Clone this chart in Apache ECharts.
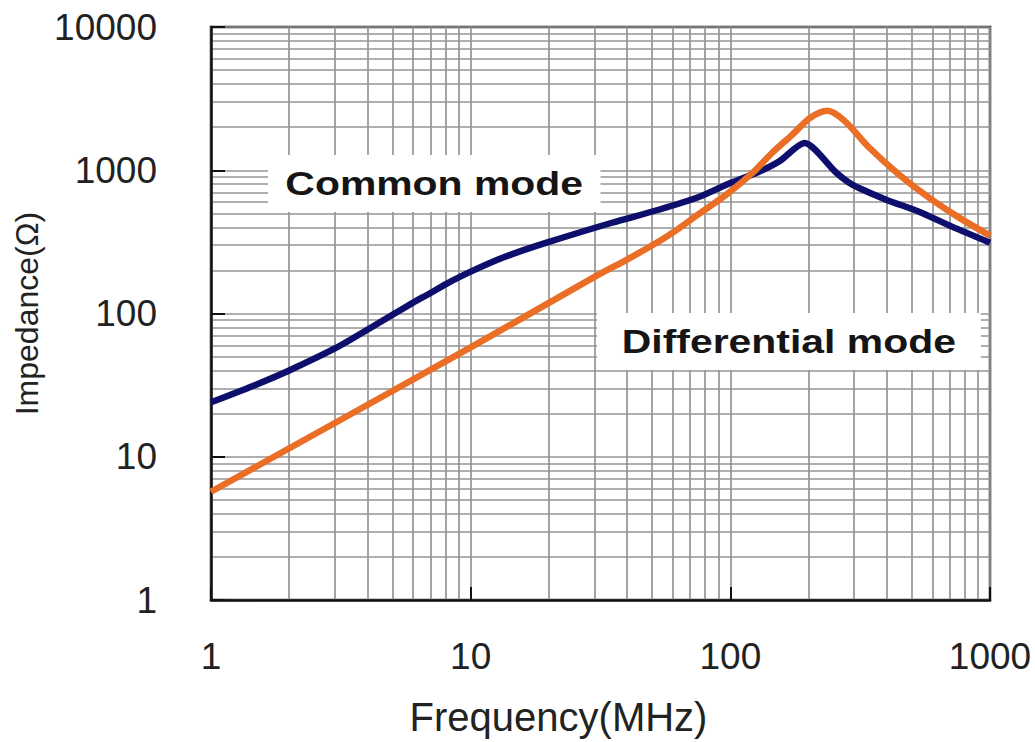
<!DOCTYPE html>
<html>
<head>
<meta charset="utf-8">
<script src="https://cdn.jsdelivr.net/npm/echarts@6/dist/echarts.min.js"></script>
<style>
  html, body { margin: 0; padding: 0; background: #fff; }
  #impedance { width: 1035px; height: 742px; }
</style>
</head>
<body>
<div id="impedance"></div>
<script>
// values
const freqCommon = [1, 1.5, 2, 3, 4, 5, 6, 7, 8, 10, 13.5, 19.6, 35, 53, 76, 96.5, 129, 154, 193, 256, 295, 398, 533, 714, 1000];
const zCommon = [24, 32, 40, 57, 77, 98, 119, 139, 160, 196, 248, 312, 430, 530, 653, 793, 977, 1150, 1550, 960, 793, 623, 514, 404, 312];

const freqDiff = [1, 10, 30, 40, 53, 63, 75, 96.5, 122, 145, 173, 203, 236, 274, 343, 447, 582, 760, 1000];
const zDiff = [5.7, 58, 180, 238, 318, 390, 490, 675, 961, 1325, 1767, 2320, 2600, 2230, 1435, 930, 643, 467, 350];

const xMajor = [1, 10, 100, 1000];
const yMajor = [1, 10, 100, 1000, 10000];

// 1,2..9,10,20..90 ... for the fine grid
function decadeLines(majors) {
  let out = [];
  for (let i = 0; i < majors.length - 1; i++) {
    for (let k = 1; k < 10; k++) out.push(majors[i] * k);
  }
  out.push(majors[majors.length - 1]);
  return out;
}

const font = '"Liberation Sans", Arial, sans-serif';
const labelFmt = function (v) { return String(Math.round(v)); };

let chart = echarts.init(document.getElementById('impedance'), null, { renderer: 'svg' });

let option = {
  animation: false,
  backgroundColor: '#fff',
  grid: {
    left: 211, right: 45, top: 27, bottom: 141,
    show: true,
    borderColor: '#1a1a1a',
    borderWidth: 2.5,
    backgroundColor: 'transparent'
  },
  xAxis: [
    {
      type: 'log', logBase: 10, min: 1, max: 1000,
      name: 'Frequency(MHz)',
      nameLocation: 'middle',
      nameGap: 97,
      nameTextStyle: { fontFamily: font, fontSize: 40, color: '#222', padding: [0, 84, 0, 0] },
      axisLine: { show: true, lineStyle: { color: '#111', width: 2.5 } },
      axisTick: { show: true, inside: true, length: 13, customValues: xMajor, lineStyle: { color: '#111', width: 2 } },
      axisLabel: { customValues: xMajor, formatter: labelFmt, margin: 38, fontFamily: font, fontSize: 37, color: '#222' },
      splitLine: { show: false }
    },
    {
      type: 'log', logBase: 10, min: 1, max: 1000,
      position: 'bottom',
      axisLine: { show: false },
      axisTick: { show: false, customValues: decadeLines(xMajor) },
      axisLabel: { show: false },
      splitLine: { show: true, lineStyle: { color: '#959595', width: 1.7 } }
    }
  ],
  yAxis: [
    {
      type: 'log', logBase: 10, min: 1, max: 10000,
      name: 'Impedance(Ω)',
      nameLocation: 'middle',
      nameGap: 158,
      nameTextStyle: { fontFamily: font, fontSize: 32, color: '#222' },
      axisLine: { show: true, lineStyle: { color: '#111', width: 2.5 } },
      axisTick: { show: true, inside: true, length: 14, customValues: yMajor, lineStyle: { color: '#111', width: 2 } },
      axisLabel: { customValues: yMajor, formatter: labelFmt, margin: 54, fontFamily: font, fontSize: 37, color: '#222' },
      splitLine: { show: false }
    },
    {
      type: 'log', logBase: 10, min: 1, max: 10000,
      position: 'left',
      axisLine: { show: false },
      axisTick: { show: false, customValues: decadeLines(yMajor) },
      axisLabel: { show: false },
      splitLine: { show: true, lineStyle: { color: '#959595', width: 1.7 } }
    }
  ],
  series: [
    {
      name: 'Common mode',
      type: 'line',
      xAxisIndex: 0, yAxisIndex: 0,
      data: freqCommon.map((f, i) => [f, zCommon[i]]),
      showSymbol: false,
      smooth: 0.25,
      lineStyle: { color: '#0e0e6c', width: 6.5 },
      z: 3
    },
    {
      name: 'Differential mode',
      type: 'line',
      xAxisIndex: 0, yAxisIndex: 0,
      data: freqDiff.map((f, i) => [f, zDiff[i]]),
      showSymbol: false,
      smooth: 0.3,
      lineStyle: { color: '#ea6e26', width: 6.5 },
      z: 4
    }
  ],
  graphic: [
    {
      type: 'text', x: 268, y: 155, scaleX: 1.24, z: 10,
      style: {
        text: 'Common mode',
        font: 'bold 33px ' + font,
        fill: '#151515',
        backgroundColor: '#fff',
        padding: [12, 14, 12, 14],
        align: 'left', verticalAlign: 'top'
      }
    },
    {
      type: 'text', x: 597, y: 313, scaleX: 1.24, z: 10,
      style: {
        text: 'Differential mode',
        font: 'bold 33px ' + font,
        fill: '#151515',
        backgroundColor: '#fff',
        padding: [12, 20, 12, 20],
        align: 'left', verticalAlign: 'top'
      }
    }
  ]
};

chart.setOption(option);
</script>
</body>
</html>
